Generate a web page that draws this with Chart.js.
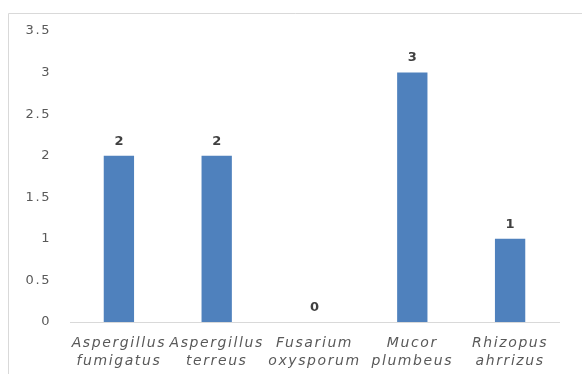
<!DOCTYPE html>
<html lang="en">
<head>
<meta charset="UTF-8">
<script src="https://cdn.jsdelivr.net/npm/chart.js"></script>
<title>Chart</title>
<style>
  html, body { margin: 0; padding: 0; background: #fff; overflow: hidden; }
  canvas { display: block; }
</style>
</head>
<body>
<canvas id="grafico" width="582" height="374"></canvas>
<script>
// dados
var especies = [['Aspergillus', 'fumigatus'], ['Aspergillus', 'terreus'], ['Fusarium', 'oxysporum'], ['Mucor', 'plumbeus'], ['Rhizopus', 'ahrrizus']];
var quantidades = [2, 2, 0, 3, 1];
var yMax = 3.5;
var yPasso = 0.5;

// moldura cinza (canto superior esquerdo do quadro) + espaçamento das letras
const moldura = {
    id: 'moldura',
    beforeDraw(chart) {
        const ctx = chart.ctx;
        ctx.save();
        ctx.strokeStyle = '#d9d9d9';
        ctx.lineWidth = 1;
        ctx.beginPath();
        ctx.moveTo(8.5, 374);
        ctx.lineTo(8.5, 13.5);
        ctx.lineTo(582, 13.5);
        ctx.stroke();
        ctx.restore();
        ctx.letterSpacing = '1.6px';
    }
};

// rótulos de valor em cima das barras
const rotulos = {
    id: 'rotulos',
    afterDatasetsDraw(chart) {
        const ctx = chart.ctx;
        const meta = chart.getDatasetMeta(0);
        ctx.save();
        ctx.letterSpacing = '0px';
        ctx.fillStyle = '#404040';
        ctx.font = 'bold 13px "DejaVu Sans"';
        ctx.textAlign = 'center';
        ctx.textBaseline = 'bottom';
        meta.data.forEach((bar, i) => {
            ctx.fillText(quantidades[i], bar.x, bar.y - 8);
        });
        ctx.restore();
    }
};

new Chart(document.getElementById('grafico'), {
    type: 'bar',
    data: {
        labels: especies,
        datasets: [{
            data: quantidades,
            backgroundColor: '#4f81bd',
            borderWidth: 0,
            categoryPercentage: 1,
            barPercentage: 0.31
        }]
    },
    options: {
        responsive: false,
        animation: false,
        layout: { padding: { top: 31, right: 23, left: 0, bottom: 0 } },
        plugins: { legend: { display: false }, tooltip: { enabled: false } },
        scales: {
            x: {
                grid: { display: false, drawTicks: false },
                border: { display: true, color: '#d9d9d9', width: 1 },
                ticks: {
                    color: '#595959',
                    padding: 13,
                    maxRotation: 0,
                    autoSkip: false,
                    font: { family: 'DejaVu Sans', size: 14, style: 'italic', lineHeight: 1.25 }
                },
                afterFit(scale) { scale.height = 52; }
            },
            y: {
                min: 0,
                max: yMax,
                grid: { display: false, drawTicks: false },
                border: { display: false },
                ticks: {
                    stepSize: yPasso,
                    color: '#595959',
                    padding: 19,
                    font: { family: 'DejaVu Sans', size: 13 },
                    callback: v => String(v)
                },
                afterFit(scale) { scale.width = 70; }
            }
        }
    },
    plugins: [moldura, rotulos]
});
</script>
</body>
</html>
